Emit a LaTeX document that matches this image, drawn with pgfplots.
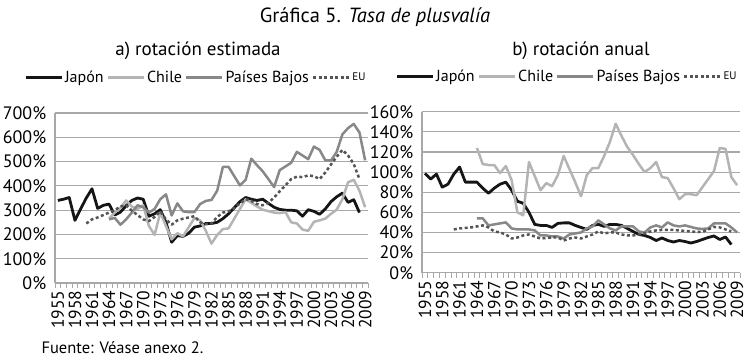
\documentclass[border=0pt]{standalone}
\usepackage{fontspec}
\setmainfont{PT Sans}
\usepackage{pgfplots}
\usepackage{pgfplotstable}
\pgfplotsset{compat=1.18}

\definecolor{cJP}{HTML}{151515}
\definecolor{cCL}{HTML}{B4B4B4}
\definecolor{cPB}{HTML}{888888}
\definecolor{cEU}{HTML}{555555}
\definecolor{cGrid}{HTML}{A8A8A8}

\pgfplotstableread{
year jp cl pb eu
1955 340 nan nan nan
1956 345 nan nan nan
1957 352 nan nan nan
1958 258 nan nan nan
1959 305 nan nan nan
1960 350 nan nan 245
1961 388 nan nan 262
1962 307 nan nan 270
1963 320 nan nan 280
1964 325 265 262 290
1965 280 290 268 300
1966 292 310 240 315
1967 318 340 262 320
1968 340 315 290 298
1969 350 305 320 280
1970 345 320 312 262
1971 275 235 290 255
1972 285 198 305 272
1973 302 290 345 295
1974 250 235 365 262
1975 168 180 278 240
1976 195 205 328 258
1977 192 192 295 265
1978 205 230 292 270
1979 230 268 292 275
1980 235 258 325 250
1981 245 215 338 242
1982 245 162 342 245
1983 250 198 380 272
1984 265 222 478 290
1985 285 225 478 295
1986 310 265 440 308
1987 335 305 402 328
1988 352 345 425 345
1989 345 330 512 338
1990 340 315 485 325
1991 345 302 460 320
1992 328 296 428 330
1993 312 290 395 352
1994 303 288 465 378
1995 300 292 480 402
1996 300 250 495 428
1997 297 245 540 438
1998 275 220 525 436
1999 302 215 510 443
2000 295 252 562 440
2001 283 258 548 428
2002 305 265 505 455
2003 335 285 505 488
2004 355 302 540 520
2005 370 345 612 548
2006 332 415 638 525
2007 343 425 655 490
2008 290 380 620 428
2009 nan 312 505 nan
}\leftdata

\pgfplotstableread{
year jp cl pb eu
1955 98.7 nan nan nan
1956 93 nan nan nan
1957 98 nan nan nan
1958 85 nan nan nan
1959 88 nan nan nan
1960 98 nan nan 43
1961 105 nan nan 44
1962 90 nan nan 44.5
1963 90 nan nan 45
1964 90 124 54 46
1965 84 108 54 47
1966 79 107 47 45
1967 84 107 48 41
1968 88 99 49 40
1969 90 106 50 38
1970 82 92 44 34
1971 71 60 43 35
1972 69 57 43 37
1973 60 110 43 38
1974 48 96 42 36
1975 47 82 37 34
1976 47 89 37 34.5
1977 45 86 36 35
1978 49 97 36 35
1979 49.5 116 34 32
1980 49.5 103 38 34
1981 47 90 39 35
1982 45 76 40 34
1983 43 97 44 36
1984 47 104 46 38
1985 48 104 52 41
1986 46 116 48 39
1987 48 130 44 40
1988 48 148 42 40
1989 47 136 46 38
1990 44 125 46 37
1991 41 117 46 37
1992 38 108 41 38
1993 37 100 40 39
1994 35 104 45 41
1995 32 110 47 42
1996 34.5 95 45 42.5
1997 32 94 50 42.5
1998 30.5 84 47 42.5
1999 32 73 46 42
2000 31 78 47 41.5
2001 29.5 78 45.5 41
2002 31 77 44 40.5
2003 33 85 43.5 40.5
2004 35 93 44 43
2005 36.5 101 49 45.5
2006 33 124 49 45
2007 35.5 123 49 43
2008 28 95 45 41
2009 nan 87 40 nan
}\rightdata

\pgfplotsset{
  mybase/.style={
    scale only axis,
    axis x line*=bottom, axis y line*=left,
    axis line style={cGrid, line width=1.1pt, -},
    xmin=1954.5, xmax=2009.5,
    xtick={1955,1958,...,2009},
    major x tick style={draw=none},
    minor xtick={1954.5,1955.5,...,2009.5},
    minor x tick style={cGrid, line width=0.8pt},
    minor tick length=5pt,
    tick align=outside,
    xticklabel style={rotate=90, anchor=east, font=\fontsize{17.5}{17.5}\selectfont, /pgf/number format/1000 sep={}},
    major y tick style={draw=none},
    ymajorgrids, major grid style={cGrid, line width=1.1pt},
    yticklabel={\pgfmathprintnumber{\tick}\%},
    yticklabel style={font=\fontsize{18}{18}\selectfont, xshift=-1pt},
    /pgf/number format/assume math mode=true,
    legend columns=4,
    legend style={draw=none, fill=none, font=\fontsize{16}{16}\selectfont, inner sep=0pt,
      /tikz/every even column/.append style={column sep=1pt}},
    legend image code/.code={\draw[##1] (0pt,0pt) -- (36pt,0pt);},
    unbounded coords=jump,
    every axis plot/.append style={line width=2.5pt, line join=round, no markers},
  },
  jp/.style={cJP, line width=2.8pt},
  cl/.style={cCL},
  pb/.style={cPB},
  eu/.style={cEU, dash pattern=on 3pt off 2.5pt},
}

\begin{document}
\begin{tikzpicture}
\path[use as bounding box] (0pt,0pt) rectangle (750pt,-359pt);

\node[font=\fontsize{20.5}{20.5}\selectfont] at (375pt,-17pt) {Gráfica 5. \textit{Tasa de plusvalía}};
\node[font=\fontsize{19}{19}\selectfont] at (198pt,-51pt) {a) rotación estimada};
\node[font=\fontsize{19}{19}\selectfont] at (581pt,-51pt) {b) rotación anual};
\node[anchor=west, font=\fontsize{16.5}{16.5}\selectfont] at (38pt,-348pt) {Fuente: Véase anexo 2.};

\begin{axis}[mybase,
  at={(55pt,-283pt)}, anchor=south west,
  width=313pt, height=170pt,
  ymin=0, ymax=700, ytick={0,100,...,700},
  legend style={at={(0.45,1.21)}, anchor=center},
]
\addplot[jp] table[x=year, y=jp] {\leftdata};
\addlegendentry{Japón}
\addplot[cl] table[x=year, y=cl] {\leftdata};
\addlegendentry{Chile}
\addplot[pb] table[x=year, y=pb] {\leftdata};
\addlegendentry{Países Bajos}
\addplot[eu] table[x=year, y=eu] {\leftdata};
\addlegendentry{\fontsize{11}{11}\selectfont EU}
\end{axis}

\begin{axis}[mybase,
  at={(422pt,-272.7pt)}, anchor=south west,
  width=318pt, height=161pt,
  ymin=0, ymax=160, ytick={0,20,...,160},
  legend style={at={(0.456,1.22)}, anchor=center},
]
\addplot[jp] table[x=year, y=jp] {\rightdata};
\addlegendentry{Japón}
\addplot[cl] table[x=year, y=cl] {\rightdata};
\addlegendentry{Chile}
\addplot[pb] table[x=year, y=pb] {\rightdata};
\addlegendentry{Países Bajos}
\addplot[eu] table[x=year, y=eu] {\rightdata};
\addlegendentry{\fontsize{11}{11}\selectfont EU}
\end{axis}
\end{tikzpicture}
\end{document}
